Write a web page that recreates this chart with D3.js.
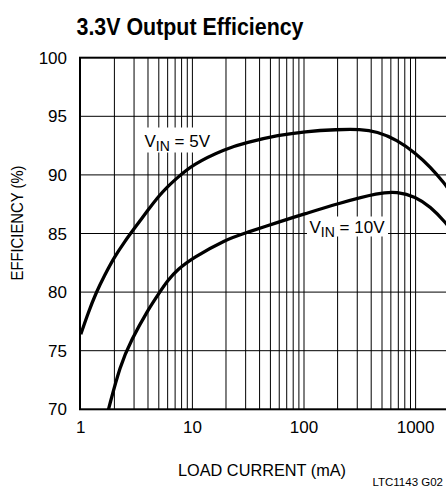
<!DOCTYPE html>
<html>
<head>
<meta charset="utf-8">
<script src="https://cdn.jsdelivr.net/npm/d3@7"></script>
<style>
  html, body { margin: 0; padding: 0; background: #fff; }
  svg { display: block; font-family: "Liberation Sans", Arial, sans-serif; }
</style>
</head>
<body>
<svg id="chart" width="446" height="487"></svg>
<script>
// ── Data ──────────────────────────────────────────────────────────

const xTickValues = [1, 10, 100, 1000];
const yTickValues = [70, 75, 80, 85, 90, 95, 100];

// load current (mA) / efficiency (%), VIN = 5V
const vin5Current    = [1, 1.16, 1.377, 1.64, 2, 2.47, 3, 4, 5, 6, 6.93, 10, 20, 30, 60, 100, 200, 320, 450, 680, 1000, 1350, 1840, 2000];
const vin5Efficiency = [76.4, 78.2, 80.0, 81.46, 83.0, 84.3, 85.4, 87.0, 88.2, 89.0, 89.55, 90.9, 92.25, 92.75, 93.4, 93.7, 93.88, 93.9, 93.7, 93.0, 91.85, 90.7, 89.2, 88.7];

// load current (mA) / efficiency (%), VIN = 10V
const vin10Current    = [1.77, 2.25, 2.83, 4, 5.1, 6, 7.4, 10, 20, 30, 60, 100, 200, 480, 680, 1000, 1350, 1870, 2000];
const vin10Efficiency = [70.0, 73.75, 75.9, 78.5, 80.0, 81.0, 81.95, 82.9, 84.5, 85.05, 86.0, 86.65, 87.55, 88.5, 88.57, 88.15, 87.3, 85.9, 85.5];

// ── Scales ────────────────────────────────────────────────────────

const svg = d3.select('#chart');

const x = d3.scaleLog().domain([1, 2000]).range([80.8, 449.2]);
const y = d3.scaleLinear().domain([70, 100]).range([409.3, 57.7]);

const [x0, x1] = x.range();
const [y0, y1] = y.range();

// ── Grid ──────────────────────────────────────────────────────────

const grid = svg.append('g').attr('class', 'grid')
  .attr('stroke', '#000').attr('stroke-width', 1);

grid.selectAll('.vline')
  .data(x.ticks().filter(d => d > 1))
  .join('line')
  .attr('class', 'vline')
  .attr('x1', d => x(d)).attr('x2', d => x(d))
  .attr('y1', y0).attr('y2', y1);

grid.selectAll('.hline')
  .data(yTickValues.filter(d => d > 70 && d < 100))
  .join('line')
  .attr('class', 'hline')
  .attr('x1', x0).attr('x2', x1)
  .attr('y1', d => y(d)).attr('y2', d => y(d));

// frame (right edge falls outside the picture)
svg.append('rect')
  .attr('x', 80).attr('y', y1)
  .attr('width', x1 - 80).attr('height', y0 - y1)
  .attr('fill', 'none').attr('stroke', '#000').attr('stroke-width', 2);

// ── Label boxes (white, break the grid) ───────────────────────────

svg.append('rect').attr('x', 140).attr('y', 127.5).attr('width', 74).attr('height', 25).attr('fill', '#fff');
svg.append('rect').attr('x', 307).attr('y', 216.5).attr('width', 81).attr('height', 20).attr('fill', '#fff');

// ── Curves ────────────────────────────────────────────────────────

const line = d3.line()
  .x(d => x(d[0]))
  .y(d => y(d[1]))
  .curve(d3.curveBasis);

svg.append('clipPath').attr('id', 'plot-clip')
  .append('rect').attr('x', x0).attr('y', y1).attr('width', x1 - x0).attr('height', y0 - y1);

const curves = svg.append('g').attr('clip-path', 'url(#plot-clip)');

curves.append('path')
  .datum(d3.zip(vin5Current, vin5Efficiency))
  .attr('d', line)
  .attr('fill', 'none').attr('stroke', '#000').attr('stroke-width', 3.3);

curves.append('path')
  .datum(d3.zip(vin10Current, vin10Efficiency))
  .attr('d', line)
  .attr('fill', 'none').attr('stroke', '#000').attr('stroke-width', 3.3);

// ── Axes text ─────────────────────────────────────────────────────

svg.append('g')
  .selectAll('text')
  .data(yTickValues)
  .join('text')
  .attr('x', 67).attr('y', d => y(d))
  .attr('dy', '0.36em')
  .attr('text-anchor', 'end')
  .attr('font-size', 17)
  .text(d => d);

svg.append('g')
  .selectAll('text')
  .data(xTickValues)
  .join('text')
  .attr('x', d => x(d)).attr('y', 433)
  .attr('text-anchor', 'middle')
  .attr('font-size', 17)
  .text(d => d);

svg.append('text')
  .attr('x', 262).attr('y', 476)
  .attr('text-anchor', 'middle')
  .attr('font-size', 17)
  .attr('textLength', 168).attr('lengthAdjust', 'spacingAndGlyphs')
  .text('LOAD CURRENT (mA)');

svg.append('text')
  .attr('transform', 'translate(23,223) rotate(-90)')
  .attr('text-anchor', 'middle')
  .attr('font-size', 16)
  .attr('textLength', 115).attr('lengthAdjust', 'spacingAndGlyphs')
  .text('EFFICIENCY (%)');

svg.append('text')
  .attr('x', 76.5).attr('y', 34.5)
  .attr('font-size', 24).attr('font-weight', 'bold')
  .attr('textLength', 227).attr('lengthAdjust', 'spacingAndGlyphs')
  .text('3.3V Output Efficiency');

svg.append('text')
  .attr('x', 443).attr('y', 486)
  .attr('text-anchor', 'end')
  .attr('font-size', 11.5)
  .text('LTC1143 G02');

// ── Curve labels ──────────────────────────────────────────────────

function vinLabel(xPos, yPos, value) {
  const t = svg.append('text')
    .attr('x', xPos).attr('y', yPos)
    .attr('font-size', 17);
  t.append('tspan').text('V');
  t.append('tspan').attr('dy', 4).attr('font-size', 14).text('IN');
  t.append('tspan').attr('dy', -4).text(` = ${value}V`);
}

vinLabel(144.5, 146.5, 5);
vinLabel(309.5, 232.5, 10);
</script>
</body>
</html>
